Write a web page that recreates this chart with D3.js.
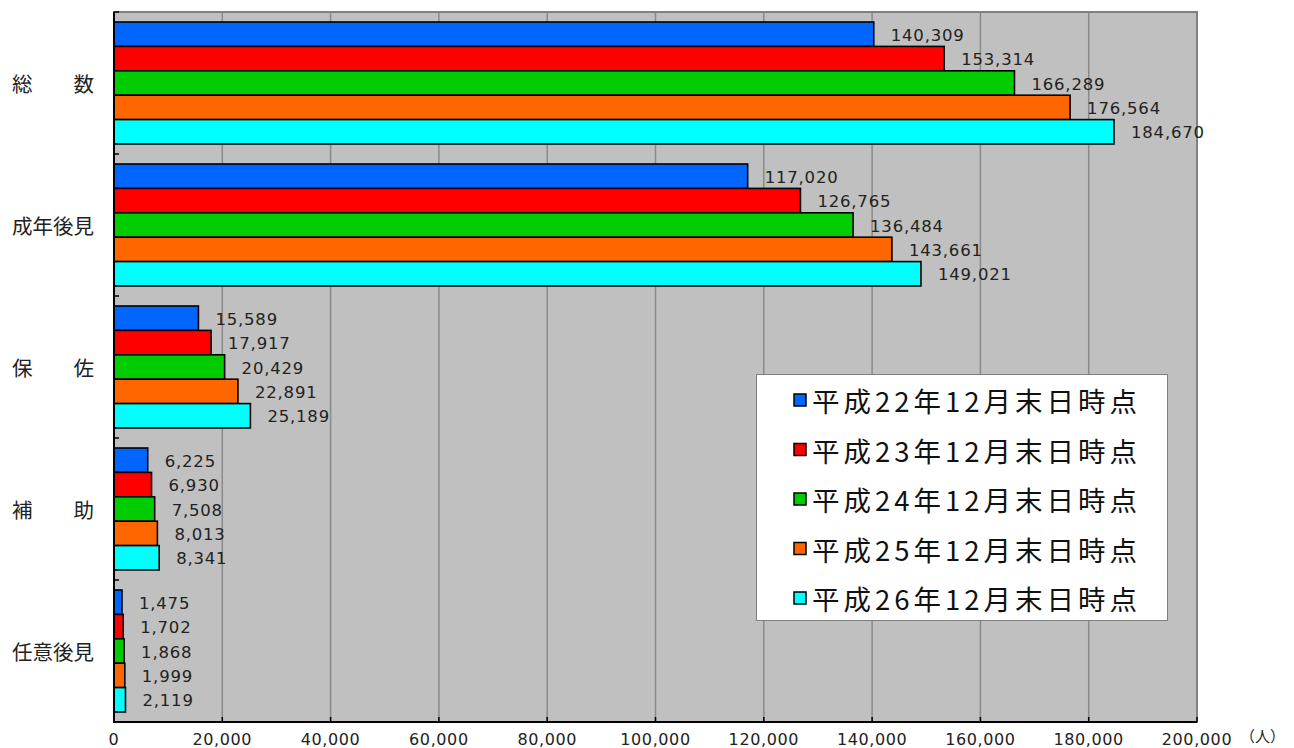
<!DOCTYPE html>
<html><head><meta charset="utf-8">
<script src="https://cdn.jsdelivr.net/npm/d3@7"></script>
<style>
html,body{margin:0;padding:0;background:#fff;}
svg{display:block;}
</style></head>
<body>
<svg id="chart" width="1294" height="748"></svg>
<script>
const categories = ["総　　数", "成年後見", "保　　佐", "補　　助", "任意後見"];
const seriesNames = ["平成22年12月末日時点", "平成23年12月末日時点", "平成24年12月末日時点", "平成25年12月末日時点", "平成26年12月末日時点"];
const seriesColors = ["#0066ff", "#ff0000", "#00cc00", "#ff6600", "#00ffff"];
const h22 = [140309, 117020, 15589, 6225, 1475];
const h23 = [153314, 126765, 17917, 6930, 1702];
const h24 = [166289, 136484, 20429, 7508, 1868];
const h25 = [176564, 143661, 22891, 8013, 1999];
const h26 = [184670, 149021, 25189, 8341, 2119];
const seriesValues = [h22, h23, h24, h25, h26];
const xTicks = [0, 20000, 40000, 60000, 80000, 100000, 120000, 140000, 160000, 180000, 200000];
const unitLabel = "（人）";

const svg = d3.select("#chart");
const L = 114, R = 1197, T = 12, B = 722;
const numFont = "'DejaVu Sans', sans-serif";
const jpFont = "'Noto Sans CJK JP', sans-serif";

const x = d3.scaleLinear().domain([0, 200000]).range([L, R]);
const y0 = d3.scaleBand().domain(categories).range([T, B]).paddingInner(0).paddingOuter(0);
const y1 = d3.scaleBand().domain(d3.range(seriesNames.length)).range([0, y0.bandwidth()]).paddingInner(0).paddingOuter(0.41);

// plot background
svg.append("rect").attr("x", L).attr("y", T).attr("width", R - L).attr("height", B - T)
  .attr("fill", "#c0c0c0");

// gridlines
svg.append("g").selectAll("line").data(xTicks.slice(1, -1)).join("line")
  .attr("x1", d => x(d)).attr("x2", d => x(d)).attr("y1", T).attr("y2", B)
  .attr("stroke", "#8a8a8a").attr("stroke-width", 1.5);

// plot border (top/right)
svg.append("rect").attr("x", L).attr("y", T).attr("width", R - L).attr("height", B - T)
  .attr("fill", "none").attr("stroke", "#808080").attr("stroke-width", 2);

// bars
const groups = svg.append("g").selectAll("g").data(categories).join("g")
  .attr("transform", d => `translate(0,${y0(d)})`);

groups.each(function(cat, ci) {
  const g = d3.select(this);
  seriesValues.forEach((vals, si) => {
    g.append("rect")
      .attr("x", x(0)).attr("y", y1(si))
      .attr("width", x(vals[ci]) - x(0)).attr("height", y1.bandwidth())
      .attr("fill", seriesColors[si]).attr("stroke", "#000").attr("stroke-width", 1.6);
  });
  seriesValues.forEach((vals, si) => {
    g.append("text")
      .attr("x", x(vals[ci]) + 17).attr("y", y1(si) + y1.bandwidth() / 2 + 1)
      .attr("dominant-baseline", "central")
      .attr("font-family", numFont).attr("font-size", 16.5).attr("letter-spacing", 0.8).attr("fill", "#222")
      .text(d3.format(",")(vals[ci]));
  });
});

// axes lines
svg.append("line").attr("x1", L).attr("x2", L).attr("y1", T).attr("y2", B + 1)
  .attr("stroke", "#000").attr("stroke-width", 2);
svg.append("line").attr("x1", L - 1).attr("x2", R).attr("y1", B).attr("y2", B)
  .attr("stroke", "#000").attr("stroke-width", 2);

// category tick marks
svg.append("g").selectAll("line").data(categories.map(c => y0(c)).concat([B])).join("line")
  .attr("x1", L).attr("x2", L + 5).attr("y1", d => d).attr("y2", d => d)
  .attr("stroke", "#000").attr("stroke-width", 1.5);
// x tick marks
svg.append("g").selectAll("line").data(xTicks).join("line")
  .attr("x1", d => x(d)).attr("x2", d => x(d)).attr("y1", B - 5).attr("y2", B)
  .attr("stroke", "#000").attr("stroke-width", 1.5);

// category labels
svg.append("g").selectAll("text").data(categories).join("text")
  .attr("x", 12).attr("y", d => y0(d) + y0.bandwidth() / 2)
  .attr("dominant-baseline", "central")
  .attr("font-family", jpFont).attr("font-size", 20.5).attr("fill", "#222")
  .text(d => d);

// x tick labels
svg.append("g").selectAll("text").data(xTicks).join("text")
  .attr("x", d => x(d)).attr("y", 739)
  .attr("text-anchor", "middle").attr("dominant-baseline", "central")
  .attr("font-family", numFont).attr("font-size", 16).attr("letter-spacing", 0.6).attr("fill", "#222")
  .text(d => d3.format(",")(d));
svg.append("text").attr("x", 1240).attr("y", 735)
  .attr("dominant-baseline", "central")
  .attr("font-family", jpFont).attr("font-size", 15).attr("fill", "#222")
  .text(unitLabel);

// legend
const lg = svg.append("g");
lg.append("rect").attr("x", 756.5).attr("y", 374.5).attr("width", 411).attr("height", 246)
  .attr("fill", "#fff").attr("stroke", "#808080").attr("stroke-width", 1);
seriesNames.forEach((name, i) => {
  const cy = 400 + i * 49.5;
  lg.append("rect").attr("x", 794).attr("y", cy - 6).attr("width", 12).attr("height", 12)
    .attr("fill", seriesColors[i]).attr("stroke", "#000").attr("stroke-width", 1.5);
  lg.append("text").attr("x", 812).attr("y", cy)
    .attr("dominant-baseline", "central")
    .attr("font-family", jpFont).attr("font-size", 27.5).attr("letter-spacing", 4).attr("fill", "#111")
    .text(name);
});
</script>
</body></html>
